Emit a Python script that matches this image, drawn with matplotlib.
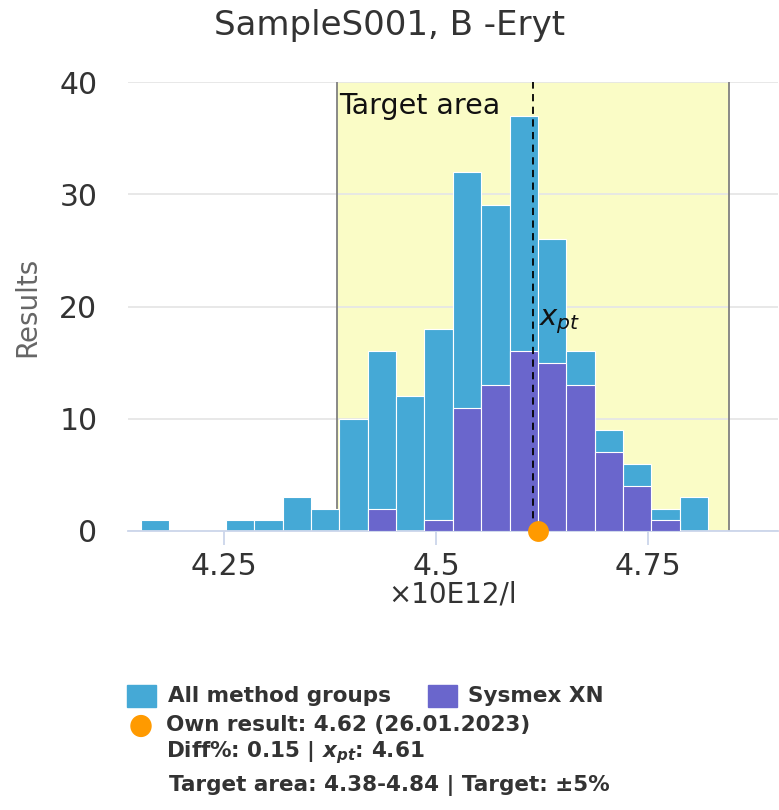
import numpy as np
import matplotlib.pyplot as plt
from matplotlib.patches import Rectangle, Circle

# histogram bins (x10E12/l)
bin_start = 4.152
bin_width = 0.03344
all_counts = [1, 0, 0, 1, 1, 3, 2, 10, 16, 12, 18, 32, 29, 37, 26, 16, 9, 6, 2, 3]
sysmex_counts = [0, 0, 0, 0, 0, 0, 0, 0, 2, 0, 1, 11, 13, 16, 15, 13, 7, 4, 1, 0]

x_pt = 4.614
own_result = 4.62
target_pct = 5
target_lo, target_hi = x_pt * (1 - target_pct / 100), x_pt * (1 + target_pct / 100)
x_ticks = [4.25, 4.5, 4.75]
y_ticks = [0, 10, 20, 30, 40]

title = "SampleS001, B -Eryt"
unit = "×10E12/l"

c_all = "#45a9d6"
c_sys = "#6a66cc"
c_own = "#ff9a00"
c_text = "#333333"

W, H = 779, 810
fig = plt.figure(figsize=(W / 100, H / 100), dpi=100)
ax = fig.add_axes([128 / W, 1 - 531 / H, 650 / W, 449 / H])

edges = bin_start + bin_width * np.arange(len(all_counts))
ax.bar(edges, all_counts, width=bin_width, align="edge", color=c_all,
       edgecolor="white", linewidth=0.8, zorder=2)
ax.bar(edges, sysmex_counts, width=bin_width, align="edge", color=c_sys,
       edgecolor="white", linewidth=0.8, zorder=3)

# target band
ax.axvspan(target_lo, target_hi, color="#fafcc6", zorder=0, lw=0)
for xv in (target_lo, target_hi):
    ax.axvline(xv, color="#808080", lw=1.3, zorder=1)
ax.text(target_lo + 0.002, 39.1, "Target area", fontsize=20.5, va="top",
        ha="left", color="#111111", zorder=5)

ax.axvline(x_pt, color="black", lw=1.3, ls=(0, (4, 3)), zorder=4)
ax.text(x_pt + 0.007, 17.4, r"$x_{pt}$", fontsize=21, va="bottom",
        ha="left", color="#111111", zorder=5)

ax.plot([own_result], [0], "o", color=c_own, ms=15, mec="none",
        clip_on=False, zorder=6)

ax.set_xlim(4.137, 4.903)
ax.set_ylim(0, 40)
ax.set_axisbelow(True)
ax.yaxis.grid(True, color="#e6e6e6", lw=1.3)
for s in ("top", "right", "left"):
    ax.spines[s].set_visible(False)
ax.spines["bottom"].set_color("#ccd6eb")
ax.spines["bottom"].set_linewidth(1.3)
ax.set_xticks(x_ticks)
ax.set_xticklabels(["4.25", "4.5", "4.75"])
ax.set_yticks(y_ticks)
ax.tick_params(axis="x", colors="#ccd6eb", length=10, width=1.3,
               labelcolor=c_text, labelsize=21.5, pad=5)
ax.tick_params(axis="y", length=0, labelcolor=c_text, labelsize=21.5, pad=22)
ax.set_xlabel(unit, fontsize=20, color=c_text, labelpad=0)
ax.set_ylabel("Results", fontsize=20, color="#666666", labelpad=13)

fig.text(390 / W, 1 - 25 / H, title, fontsize=24.5, color=c_text,
         ha="center", va="center")

# legend block
def px(x, y):
    return x / W, 1 - y / H

lg = dict(fontsize=15.5, fontweight="bold", color=c_text, va="center", ha="left")
fig.add_artist(Rectangle(px(127, 707), 29 / W, 22 / H, color=c_all,
                         transform=fig.transFigure))
fig.text(*px(168, 696), "All method groups", **lg)
fig.add_artist(Rectangle(px(428, 707), 29 / W, 22 / H, color=c_sys,
                         transform=fig.transFigure))
fig.text(*px(468, 696), "Sysmex XN", **lg)
fig.add_artist(Circle(px(141, 726), 10 / W, color=c_own,
                      transform=fig.transFigure))
fig.text(*px(166, 725), "Own result: 4.62 (26.01.2023)", **lg)
fig.text(*px(166, 753), r"Diff%: 0.15 | $\mathbfit{x_{pt}}$: 4.61", **lg)
fig.text(*px(169, 785), "Target area: 4.38-4.84 | Target: ±5%", **lg)

fig.savefig("out.png", dpi=100, facecolor="white")
